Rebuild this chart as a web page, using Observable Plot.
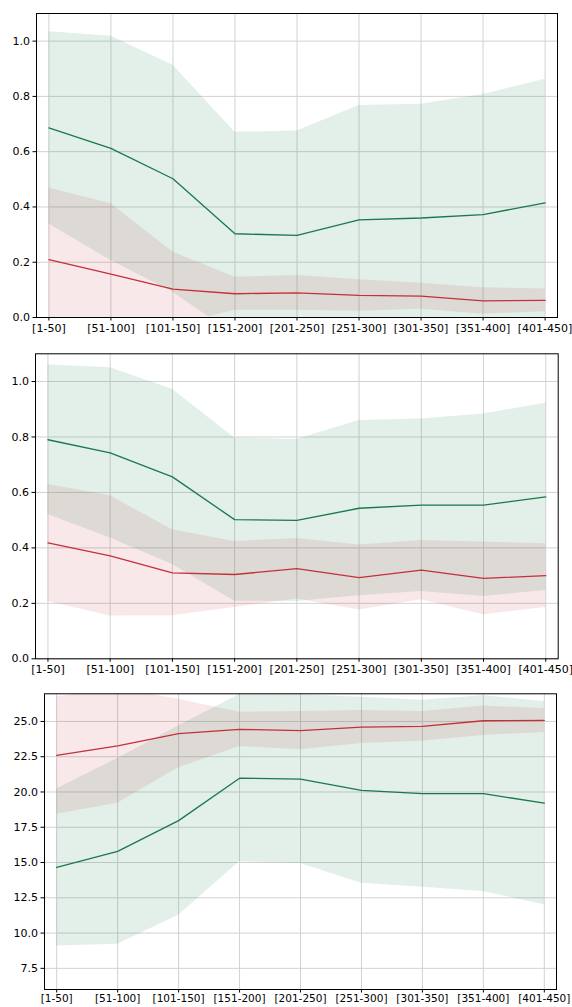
<!DOCTYPE html>
<html>
<head>
<meta charset="utf-8">
<script src="https://cdn.jsdelivr.net/npm/d3@7"></script>
<script src="https://cdn.jsdelivr.net/npm/@observablehq/plot@0.6"></script>
<style>
  html, body { margin: 0; padding: 0; background: #fff; overflow: hidden; }
  #charts svg { display: block; overflow: visible; }
</style>
</head>
<body>
<div id="charts"></div>
<script>
const labels = ["[1-50]","[51-100]","[101-150]","[151-200]","[201-250]","[251-300]","[301-350]","[351-400]","[401-450]"];

// Panel 1
const p1GreenMean = [0.686,0.612,0.502,0.303,0.297,0.353,0.360,0.372,0.415];
const p1GreenStd  = [0.348,0.406,0.411,0.367,0.378,0.414,0.412,0.435,0.447];
const p1RedMean   = [0.209,0.157,0.103,0.086,0.089,0.080,0.077,0.060,0.062];
const p1RedStd    = [0.260,0.255,0.134,0.060,0.063,0.057,0.047,0.048,0.041];

// Panel 2
const p2GreenMean = [0.790,0.743,0.656,0.502,0.499,0.543,0.554,0.554,0.584];
const p2GreenStd  = [0.270,0.307,0.316,0.294,0.292,0.316,0.311,0.329,0.338];
const p2RedMean   = [0.418,0.371,0.310,0.304,0.325,0.293,0.320,0.290,0.300];
const p2RedStd    = [0.211,0.217,0.155,0.119,0.109,0.117,0.107,0.131,0.115];

// Panel 3
const p3GreenMean = [14.65,15.79,17.97,20.98,20.91,20.12,19.88,19.88,19.21];
const p3GreenStd  = [5.56,6.58,6.71,5.93,5.98,6.59,6.63,6.94,7.20];
const p3RedMean   = [22.59,23.27,24.14,24.44,24.35,24.60,24.65,25.05,25.07];
const p3RedStd    = [4.16,4.06,2.43,1.22,1.36,1.17,1.05,1.04,0.85];

const yTicks01 = [0,0.2,0.4,0.6,0.8,1.0];
const yTicks3 = [7.5,10,12.5,15,17.5,20,22.5,25];

const GREEN = "#187a4a";
const RED = "#c4303a";

function rows(mean, std) {
  return mean.map((m, i) => ({i, m, lo: m - std[i], hi: m + std[i]}));
}

function panel(cfg) {
  const g = rows(cfg.gm, cfg.gs);
  const r = rows(cfg.rm, cfg.rs);
  const idx = labels.map((d, i) => i);
  return Plot.plot({
    width: 572,
    height: cfg.height,
    marginTop: cfg.mt,
    marginBottom: cfg.mb,
    marginLeft: cfg.ml,
    marginRight: cfg.mr,
    style: {fontFamily: "DejaVu Sans, sans-serif", fontSize: "11px", color: "#000", background: "transparent"},
    x: {type: "linear", domain: [-0.2, 8.2]},
    y: {domain: cfg.ydom},
    marks: [
      Plot.gridX(idx, {stroke: "#d2d2d2", strokeOpacity: 1, strokeWidth: 1}),
      Plot.gridY(cfg.yt, {stroke: "#d2d2d2", strokeOpacity: 1, strokeWidth: 1}),
      Plot.areaY(r, {x: "i", y1: "lo", y2: "hi", fill: RED, fillOpacity: 0.11, clip: true}),
      Plot.areaY(g, {x: "i", y1: "lo", y2: "hi", fill: GREEN, fillOpacity: 0.12, clip: true}),
      Plot.lineY(g, {x: "i", y: "m", stroke: GREEN, strokeWidth: 1.3}),
      Plot.lineY(r, {x: "i", y: "m", stroke: RED, strokeWidth: 1.3}),
      Plot.axisX(idx, {tickFormat: i => labels[i], tickSize: 3.5, tickPadding: cfg.xpad, label: null, fontSize: cfg.xfs}),
      Plot.axisY(cfg.yt, {tickFormat: d => d.toFixed(1), tickSize: 3.5, tickPadding: 3, label: null, fontSize: 11}),
      Plot.frame({stroke: "#000", strokeWidth: 1})
    ]
  });
}

const root = document.getElementById("charts");
root.appendChild(panel({height: 340, mt: 13, mb: 23, ml: 36, mr: 15, ydom: [0, 1.1], yt: yTicks01, xpad: 3, xfs: 11,
  gm: p1GreenMean, gs: p1GreenStd, rm: p1RedMean, rs: p1RedStd}));
root.appendChild(panel({height: 340, mt: 13.3, mb: 21.7, ml: 35, mr: 14.3, ydom: [0, 1.1], yt: yTicks01, xpad: 3, xfs: 11,
  gm: p2GreenMean, gs: p2GreenStd, rm: p2RedMean, rs: p2RedStd}));
root.appendChild(panel({height: 340, mt: 13.3, mb: 31, ml: 44, mr: 16, ydom: [6.0, 26.96], yt: yTicks3, xpad: 1.5, xfs: 10.5,
  gm: p3GreenMean, gs: p3GreenStd, rm: p3RedMean, rs: p3RedStd}));
</script>
</body>
</html>
